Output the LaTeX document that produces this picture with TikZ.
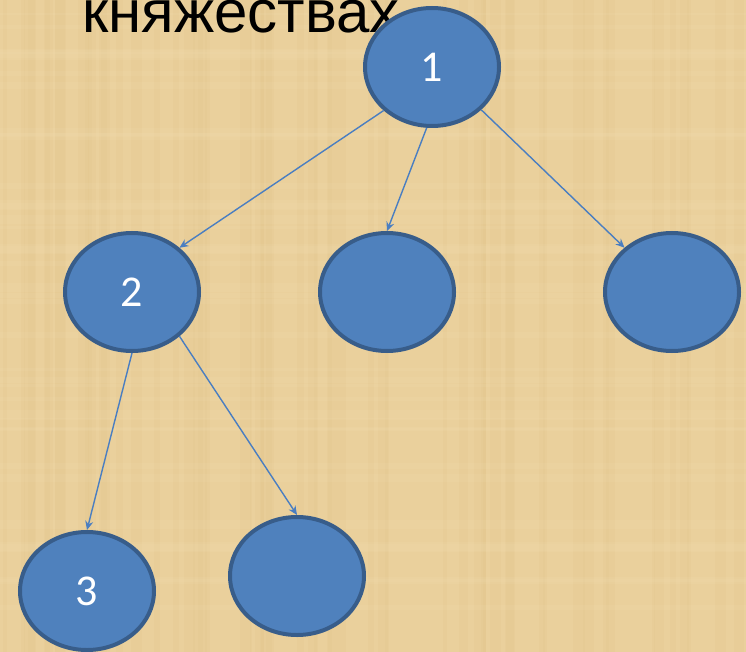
\documentclass[tikz,border=0pt]{standalone}
\usepackage{fontspec}
\setmainfont{Liberation Sans}
\newfontfamily\numfont{Carlito}
\usetikzlibrary{shapes.geometric,arrows.meta}
\definecolor{paper}{RGB}{234,208,156}
\definecolor{paperdark}{RGB}{222,190,128}
\definecolor{paperlight}{RGB}{242,222,178}
\definecolor{nodefill}{RGB}{79,129,189}
\definecolor{nodeline}{RGB}{56,93,138}
\definecolor{arrowblue}{RGB}{74,126,193}
\tikzset{
  treenode/.style={ellipse, draw=nodeline, fill=nodefill, line width=4pt,
    minimum width=134pt, minimum height=118pt, inner sep=0pt,
    text=white, font=\numfont\fontsize{44}{44}\selectfont},
  link/.style={draw=arrowblue, line width=1.4pt,
    -{Stealth[length=9pt,width=8pt,inset=3pt]}},
  title/.style={font=\fontsize{60}{62}\selectfont, text=black, inner sep=0pt}
}
\begin{document}
\begin{tikzpicture}[x=1pt,y=-1pt]
  \useasboundingbox (0,0) rectangle (746,652);
  \fill[paper] (0,0) rectangle (746,652);
  % subtle papyrus texture
  \pgfmathsetseed{7}
  \begin{scope}
    \clip (0,0) rectangle (746,652);
    \foreach \i in {1,...,60} {
      \pgfmathsetmacro{\xx}{rnd*746}
      \pgfmathsetmacro{\ww}{2+rnd*10}
      \fill[paperdark, opacity=0.12] (\xx,0) rectangle (\xx+\ww,652);
    }
    \foreach \i in {1,...,40} {
      \pgfmathsetmacro{\yy}{rnd*652}
      \pgfmathsetmacro{\hh}{2+rnd*8}
      \fill[paperlight, opacity=0.15] (0,\yy) rectangle (746,\yy+\hh);
    }
  \end{scope}
  \node[title, anchor=base west] (title) at (82,33) {княжествах};
  \node[treenode] (n1) at (432,67) {1};
  \node[treenode] (n2) at (132,292) {2};
  \node[treenode] (n3) at (387,292) {};
  \node[treenode] (n4) at (672,292) {};
  \node[treenode] (n5) at (87,591) {3};
  \node[treenode] (n6) at (297,576) {};
  \draw[link] (n1.222) -- (n2.43);
  \draw[link] (n1.265) -- (n3.90);
  \draw[link] (n1.319) -- (n4.137);
  \draw[link] (n2.270) -- (n5.90);
  \draw[link] (n2.317) -- (n6.90);
\end{tikzpicture}
\end{document}
